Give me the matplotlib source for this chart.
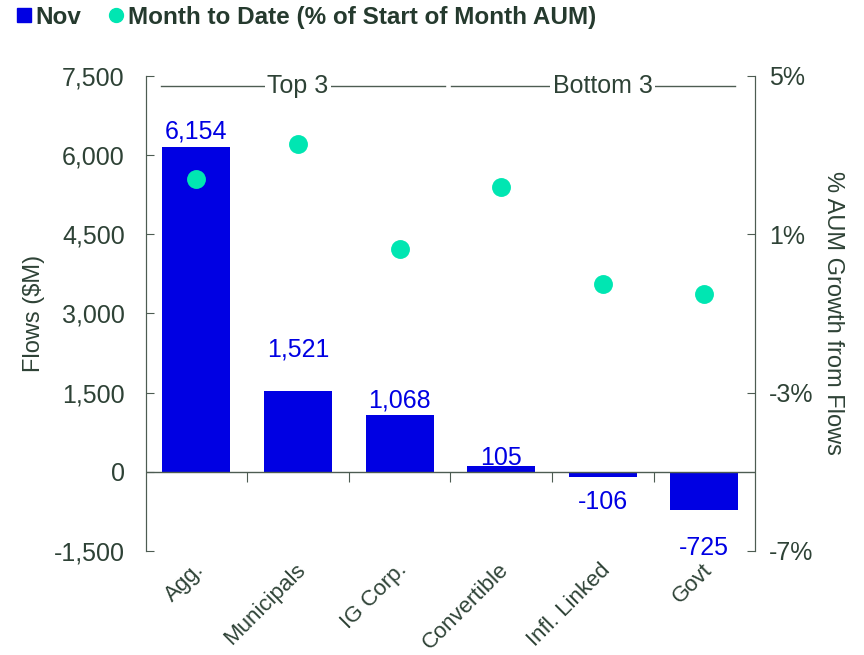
import numpy as np
import matplotlib.pyplot as plt
import matplotlib.transforms as mtransforms
from matplotlib.lines import Line2D

plt.rcParams['font.family'] = ['Liberation Sans', 'DejaVu Sans']

# data
categories = ['Agg.', 'Municipals', 'IG Corp.', 'Convertible', 'Infl. Linked', 'Govt']
flows = [6154, 1521, 1068, 105, -106, -725]
aum_growth = [2.39, 3.27, 0.63, 2.20, -0.25, -0.50]
flow_ticks = [-1500, 0, 1500, 3000, 4500, 6000, 7500]
pct_ticks = [-7, -3, 1, 5]
groups = ['Top 3', 'Bottom 3']
group_bounds = [(-0.5, 2.5), (2.5, 5.5)]

# label gaps from bar end, in points (as placed in the original)
label_gap = [6, 25, 6, 1, 9, 19]

bar_col = '#0000E3'
dot_col = '#00E6B2'
txt_col = '#2E4236'
axis_col = '#4D5C52'

fig = plt.figure(figsize=(8.64, 6.55), dpi=100)
ax = fig.add_axes([0.1685, 0.159, 0.7055, 0.725])
ax2 = ax.twinx()

x = np.arange(len(categories))
ax.bar(x, flows, width=0.67, color=bar_col, zorder=2)
ax.axhline(0, color=axis_col, lw=1, zorder=3)

for xi, v, g in zip(x, flows, label_gap):
    if v >= 0:
        ax.annotate('{:,}'.format(v), (xi, v), xytext=(0, g), textcoords='offset points',
                    ha='center', va='baseline', color=bar_col, fontsize=18)
    else:
        ax.annotate('{:,}'.format(v), (xi, v), xytext=(0, -g),
                    textcoords='offset points', ha='center', va='top', color=bar_col, fontsize=18)

ax2.scatter(x, aum_growth, s=185, color=dot_col, zorder=4, linewidths=0)

ax.set_xlim(-0.5, len(categories) - 0.5)
ax.set_ylim(-1500, 7500)
ax.set_yticks(flow_ticks)
ax.set_yticklabels(['{:,}'.format(t) for t in flow_ticks])
ax2.set_ylim(-7, 5)
ax2.set_yticks(pct_ticks)
ax2.set_yticklabels(['{}%'.format(t) for t in pct_ticks])

for a in (ax, ax2):
    for s in ('top', 'bottom'):
        a.spines[s].set_visible(False)
    for s in ('left', 'right'):
        a.spines[s].set_color(axis_col)
ax.tick_params(axis='y', direction='in', length=6, color=axis_col, labelcolor=txt_col,
               labelsize=18, pad=15)
ax2.tick_params(axis='y', direction='in', length=6, color=axis_col, labelcolor=txt_col,
                labelsize=18, pad=10)

# category labels at the bottom
ax.set_xticks(x)
ax.set_xticklabels(categories, rotation=45, ha='right', va='top', rotation_mode='anchor',
                   fontsize=16, color=txt_col)
ax.tick_params(axis='x', length=0, pad=6)
shift = mtransforms.ScaledTranslation(-3 / 100, 0, fig.dpi_scale_trans)
for lbl in ax.get_xticklabels():
    lbl.set_transform(lbl.get_transform() + shift)

# category separators on the zero line
sep = ax.secondary_xaxis(1.0 / 6)
sep.set_xticks(x[:-1] + 0.5)
sep.set_xticklabels([])
sep.tick_params(length=7, color=axis_col, direction='out')
sep.spines['bottom'].set_visible(False)

ax.set_ylabel('Flows ($M)', fontsize=17, color=txt_col, labelpad=6)
ax2.set_ylabel('% AUM Growth from Flows', fontsize=17, color=txt_col, rotation=270, labelpad=22)

# group headers
line_trim = [(0.15, 0.05), (0.01, 0.2)]
for (x0, x1), label, (t0, t1) in zip(group_bounds, groups, line_trim):
    mid = (x0 + x1) / 2
    ax.plot([x0 + t0, x1 - t1], [7310, 7310], color=axis_col, lw=1, zorder=4)
    ax.text(mid, 7310, label, ha='center', va='center', fontsize=18, color=txt_col,
            bbox=dict(facecolor='white', edgecolor='none', pad=2), zorder=5)

handles = [Line2D([], [], marker='s', ls='', color=bar_col, markersize=10),
           Line2D([], [], marker='o', ls='', color=dot_col, markersize=10)]
leg = fig.legend(handles, ['Nov', 'Month to Date (% of Start of Month AUM)'],
                 loc='upper left', bbox_to_anchor=(-0.012, 1.025), ncol=2, frameon=False,
                 handletextpad=0.0, columnspacing=0.9, handlelength=1.0,
                 prop={'weight': 'bold', 'size': 17.5})
for t in leg.get_texts():
    t.set_color('#253A2E')

fig.savefig('out.png', dpi=100)
